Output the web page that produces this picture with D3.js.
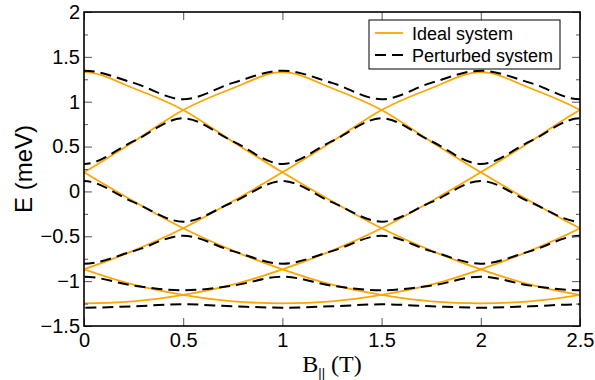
<!DOCTYPE html>
<html>
<head>
<meta charset="utf-8">
<script src="https://cdn.jsdelivr.net/npm/d3@7"></script>
<style>
  body { margin: 0; background: #fff; }
  svg { display: block; }
  .tick text { font-family: "Liberation Sans", Arial, sans-serif; }
</style>
</head>
<body>
<div id="chart"></div>
<script>
// Field values (T); one step outside the axis range on each side so the curves run off the frame
const field = [-0.25, 0, 0.25, 0.5, 0.75, 1, 1.25, 1.5, 1.75, 2, 2.25, 2.5, 2.75];

// Ideal system levels (meV), crossing curves
const ideal0 = [1.15, 1.33, 1.15, 0.908, 0.555, 0.213, -0.11, -0.411, -0.66, -0.868, -1.04, -1.154, -1.225];
const ideal1 = [0.555, 0.213, -0.11, -0.411, -0.66, -0.868, -1.04, -1.154, -1.225, -1.247, -1.225, -1.154, -1.04];
const ideal2 = [-0.66, -0.868, -1.04, -1.154, -1.225, -1.247, -1.225, -1.154, -1.04, -0.868, -0.66, -0.411, -0.11];
const ideal3 = [-1.225, -1.247, -1.225, -1.154, -1.04, -0.868, -0.66, -0.411, -0.11, 0.213, 0.555, 0.908, 1.15];
const ideal4 = [-1.04, -0.868, -0.66, -0.411, -0.11, 0.213, 0.555, 0.908, 1.15, 1.33, 1.15, 0.908, 0.555];
const ideal5 = [-0.11, 0.213, 0.555, 0.908, 1.15, 1.33, 1.15, 0.908, 0.555, 0.213, -0.11, -0.411, -0.66];

// Perturbed system levels (meV), avoided crossings
const pert1 = [1.21, 1.346, 1.21, 1.027, 1.21, 1.346, 1.21, 1.027, 1.21, 1.346, 1.21, 1.027, 1.21];
const pert2 = [0.56, 0.306, 0.56, 0.815, 0.56, 0.306, 0.56, 0.815, 0.56, 0.306, 0.56, 0.815, 0.56];
const pert3 = [-0.12, 0.116, -0.12, -0.337, -0.12, 0.116, -0.12, -0.337, -0.12, 0.116, -0.12, -0.337, -0.12];
const pert4 = [-0.665, -0.806, -0.665, -0.494, -0.665, -0.806, -0.665, -0.494, -0.665, -0.806, -0.665, -0.494, -0.665];
const pert5 = [-1.05, -0.95, -1.05, -1.102, -1.05, -0.95, -1.05, -1.102, -1.05, -0.95, -1.05, -1.102, -1.05];
const pert6 = [-1.28, -1.296, -1.28, -1.258, -1.28, -1.296, -1.28, -1.258, -1.28, -1.296, -1.28, -1.258, -1.28];

const xTicks = [0, 0.5, 1, 1.5, 2, 2.5];
const yTicks = [-1.5, -1, -0.5, 0, 0.5, 1, 1.5, 2];
const yMinor = [-1.25, -0.75, -0.25, 0.25, 0.75, 1.25, 1.75];

const idealSeries = [ideal0, ideal1, ideal2, ideal3, ideal4, ideal5];
const pertSeries = [pert1, pert2, pert3, pert4, pert5, pert6];

const W = 595, H = 380;
const margin = {top: 12, right: 15, bottom: 54, left: 84};
const width = W - margin.left - margin.right,
      height = H - margin.top - margin.bottom;

const svg = d3.select("#chart").append("svg")
    .attr("width", W)
    .attr("height", H);

const g = svg.append("g")
    .attr("transform", `translate(${margin.left},${margin.top})`);

const x = d3.scaleLinear().domain([0, 2.5]).range([0, width]);
const y = d3.scaleLinear().domain([-1.5, 2]).range([height, 0]);

g.append("clipPath").attr("id", "plot-clip")
  .append("rect").attr("width", width).attr("height", height);

const line = d3.line()
    .x((d, i) => x(field[i]))
    .y(d => y(d))
    .curve(d3.curveMonotoneX);

const curves = g.append("g").attr("clip-path", "url(#plot-clip)");

// Ideal levels first, dashed perturbed levels on top
curves.selectAll(".ideal")
  .data(idealSeries)
  .enter().append("path")
  .attr("class", "ideal")
  .attr("d", line)
  .attr("fill", "none")
  .attr("stroke", "#ffa500")
  .attr("stroke-width", 1.8);

curves.selectAll(".pert")
  .data(pertSeries)
  .enter().append("path")
  .attr("class", "pert")
  .attr("d", line)
  .attr("fill", "none")
  .attr("stroke", "#000")
  .attr("stroke-width", 2)
  .attr("stroke-dasharray", "11,6");

// Axes with inward ticks
const fmt = d => d3.format("")(d);

const xBottom = g.append("g")
    .attr("transform", `translate(0,${height})`)
    .call(d3.axisBottom(x).tickValues(xTicks).tickSize(-8).tickPadding(7).tickFormat(fmt));
const xTop = g.append("g")
    .call(d3.axisTop(x).tickValues(xTicks).tickSize(-8).tickFormat(""));
const yLeft = g.append("g")
    .call(d3.axisLeft(y).tickValues(yTicks).tickSize(-8).tickPadding(4).tickFormat(fmt));
const yLeftMinor = g.append("g")
    .call(d3.axisLeft(y).tickValues(yMinor).tickSize(-4).tickFormat(""));
const yRight = g.append("g")
    .attr("transform", `translate(${width},0)`)
    .call(d3.axisRight(y).tickValues(yTicks).tickSize(-8).tickFormat(""));
const yRightMinor = g.append("g")
    .attr("transform", `translate(${width},0)`)
    .call(d3.axisRight(y).tickValues(yMinor).tickSize(-4).tickFormat(""));

[xBottom, xTop, yLeft, yLeftMinor, yRight, yRightMinor].forEach(a => {
  a.select(".domain").remove();
  a.selectAll(".tick line").attr("stroke", "#555").attr("stroke-width", 1);
  a.selectAll(".tick text").attr("fill", "#000").style("font-size", "20px");
});

// Frame
g.append("rect")
  .attr("width", width)
  .attr("height", height)
  .attr("fill", "none")
  .attr("stroke", "#000")
  .attr("stroke-width", 1.6);

// Axis titles
svg.append("text")
  .attr("transform", `translate(32,${margin.top + height / 2}) rotate(-90)`)
  .attr("text-anchor", "middle")
  .style("font-family", "'Liberation Sans', Arial, sans-serif")
  .style("font-size", "24px")
  .text("E (meV)");

const xt = svg.append("text")
  .attr("x", margin.left + width / 2)
  .attr("y", 372)
  .attr("text-anchor", "middle")
  .style("font-family", "'Liberation Serif', 'Times New Roman', serif")
  .style("font-size", "24px");
xt.append("tspan").text("B");
xt.append("tspan").attr("dy", 5).style("font-size", "13px")
  .style("font-family", "'Liberation Sans', Arial, sans-serif").text("||");
xt.append("tspan").attr("dy", -5).text(" (T)");

// Legend
const legend = svg.append("g").attr("transform", "translate(369,20)");
legend.append("rect")
  .attr("width", 191).attr("height", 49)
  .attr("fill", "#fff").attr("stroke", "#000").attr("stroke-width", 1);

const legendItems = [
  {label: "Ideal system", color: "#ffa500", dash: null, width: 1.8},
  {label: "Perturbed system", color: "#000", dash: "11,6", width: 2}
];
legendItems.forEach((it, i) => {
  const yy = 13 + i * 22;
  legend.append("line")
    .attr("x1", 6).attr("x2", 34).attr("y1", yy).attr("y2", yy)
    .attr("stroke", it.color).attr("stroke-width", it.width)
    .attr("stroke-dasharray", it.dash);
  legend.append("text")
    .attr("x", 43).attr("y", yy + 6.5)
    .style("font-family", "'Liberation Sans', Arial, sans-serif")
    .style("font-size", "18px")
    .text(it.label);
});
</script>
</body>
</html>
